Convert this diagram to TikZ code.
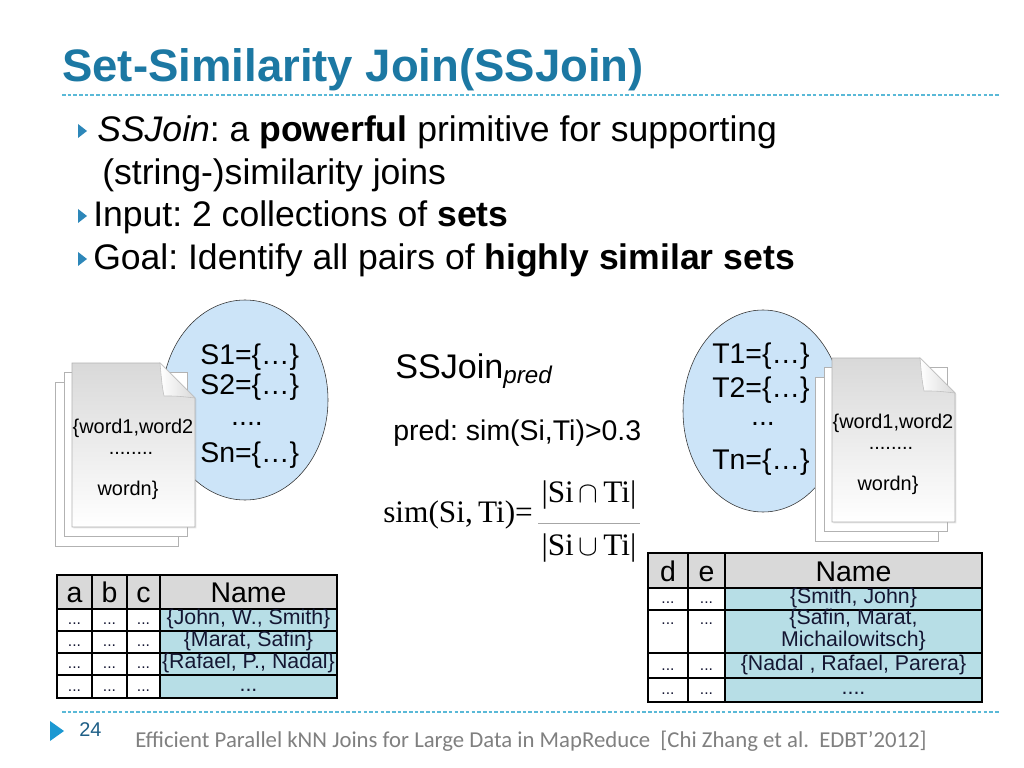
\documentclass[tikz,border=0pt]{standalone}
\usepackage{fontspec}
\setmainfont{Liberation Sans}
\newfontfamily\timesfont{Liberation Serif}
\newfontfamily\footfont{Carlito}
\usetikzlibrary{shapes.geometric,shadows}
\frenchspacing
\newlength{\pxu}
\setlength{\pxu}{0.703125pt}
\definecolor{titleblue}{RGB}{28,120,163}
\definecolor{bulletblue}{RGB}{45,135,185}
\definecolor{ruleblue}{RGB}{90,185,215}
\definecolor{setblue}{RGB}{204,228,248}
\definecolor{headgray}{RGB}{217,217,217}
\definecolor{nameteal}{RGB}{183,222,230}
\definecolor{celltext}{RGB}{20,22,50}
\definecolor{footgray}{RGB}{128,128,128}
\definecolor{pageblue}{RGB}{30,95,135}
\definecolor{footblue}{RGB}{27,152,210}
\tikzset{
  body/.style={inner sep=0, font=\fontsize{25}{30}\selectfont},
  setell/.style={ellipse, draw=black!80, fill=setblue, inner sep=0},
  settxt/.style={inner sep=0, font=\fontsize{20}{24}\selectfont},
  sheetback/.style={draw=gray!60, fill=white, line width=0.6pt},
  sheetfront/.style={draw=gray!60, line width=0.6pt, top color=gray!30, bottom color=white,
    drop shadow={opacity=0.2, shadow xshift=1pt, shadow yshift=-1pt}},
  fold/.style={draw=gray!50, line width=0.4pt, left color=white, right color=gray!30},
  sheettxt/.style={inner sep=0, font=\fontsize{14}{16}\selectfont},
  grid/.style={line width=1.6pt, black},
  headtxt/.style={inner sep=0, anchor=base, font=\fontsize{20}{24}\selectfont},
  dotcell/.style={inner sep=0, text height=1.5ex, text depth=.25ex, font=\fontsize{11}{13}\selectfont, celltext},
  namecell/.style={inner sep=0, text height=0.72em, text depth=0.05em, font=\fontsize{15}{15}\selectfont, celltext},
  formula/.style={inner sep=0, font=\timesfont\fontsize{22}{26}\selectfont},
  rule/.style={ruleblue, line width=0.8pt, dash pattern=on 2.5pt off 1.5pt}
}
% stack of three pages: #1,#2 top left of the front page, #3 name
\newcommand{\docstack}[3]{%
  \foreach \dx/\dy in {-17/19, -8/9} {
    \draw[sheetback] (#1+\dx,#2+\dy) rectangle ++(123,164);
  }
  \draw[sheetfront] (#1,#2) -- ++(88,0) -- ++(35,35) -- ++(0,129) -- ++(-123,0) -- cycle;
  \draw[fold] (#1+88,#2) .. controls (#1+90,#2+22) .. (#1+92,#2+33) .. controls (#1+105,#2+33) .. (#1+123,#2+35) -- cycle;
  \node[sheettxt, anchor=base] (#3-w1) at (#1+61,#2+70) {\{word1,word2};
  \node[sheettxt, anchor=base] (#3-dots) at (#1+59,#2+91) {........};
  \node[sheettxt, anchor=base] (#3-wn) at (#1+56,#2+132) {wordn\}};
}

\begin{document}
\begin{tikzpicture}[x=\pxu, y=-\pxu]
  \fill[white] (0,0) rectangle (1024,768);
  \useasboundingbox (0,0) rectangle (1024,768);

  % title and bullets
  \node[inner sep=0, anchor=base west, titleblue, font=\bfseries\fontsize{32}{38}\selectfont] (title) at (62,82) {Set-Similarity Join(SSJoin)};
  \coordinate (ruleL) at (62,95);
  \coordinate (ruleR) at (1000,95);
  \draw[rule] (ruleL) -- (ruleR);
  \node[body, anchor=base west] (b1) at (97,142) {\textit{SSJoin}: a \textbf{powerful} primitive for supporting};
  \node[body, anchor=base west] (b1b) at (102,185) {(string-)similarity joins};
  \node[body, anchor=base west] (b2) at (93,227) {Input: 2 collections of \textbf{sets}};
  \node[body, anchor=base west] (b3) at (93,270) {Goal: Identify all pairs of \textbf{highly similar sets}};
  \foreach \y in {142,227,270}
    \fill[bulletblue] (78,\y-18) -- (87,\y-11) -- (78,\y-4) -- cycle;

  % the two collections
  \node[setell, minimum width=166\pxu, minimum height=200\pxu] (Sset) at (245,400) {};
  \node[setell, minimum width=160\pxu, minimum height=202\pxu] (Tset) at (763,411) {};
  \docstack{72}{363}{Sdoc}
  \docstack{832}{358}{Tdoc}
  \node[settxt, anchor=base west] (S1) at (200,364) {S1=\{…\}};
  \node[settxt, anchor=base west] (S2) at (200,394) {S2=\{…\}};
  \node[settxt, anchor=base] (Sdots) at (247,425) {....};
  \node[settxt, anchor=base west] (Sn) at (200,462) {Sn=\{…\}};
  \node[settxt, anchor=base west] (T1) at (712,363) {T1=\{…\}};
  \node[settxt, anchor=base west] (T2) at (712,397) {T2=\{…\}};
  \node[settxt, anchor=base] (Tdots) at (763,425) {...};
  \node[settxt, anchor=base west] (Tn) at (712,469) {Tn=\{…\}};

  % join predicate
  \node[inner sep=0, anchor=base west, font=\fontsize{24}{28}\selectfont] (ssj) at (395,378) {SSJoin\raisebox{-4pt}{\fontsize{17}{20}\selectfont\itshape pred}};
  \node[inner sep=0, anchor=base west, font=\fontsize{20}{24}\selectfont] (pred) at (393,440) {pred: sim(Si,Ti)>0.3};
  \node[formula, anchor=base west] (lhs) at (383,522) {sim(Si,\,Ti)=};
  \node[formula, anchor=base] (num) at (589,502) {|Si$\,\cap\,$Ti|};
  \node[formula, anchor=base] (den) at (589,555) {|Si$\,\cup\,$Ti|};
  \coordinate (barL) at (538,523);
  \coordinate (barR) at (640,523);
  \draw[gray!70, line width=0.6pt] (barL) -- (barR);

  % left table
  \fill[headgray] (57,575) rectangle (337,609);
  \fill[nameteal] (160,609) rectangle (337,698);
  \foreach \x in {92,127,160} \draw[grid] (\x,575) -- (\x,698);
  \foreach \y in {609,631,653,675} \draw[grid] (57,\y) -- (337,\y);
  \draw[grid] (57,575) rectangle (337,698);
  \foreach \h/\x in {a/74.5, b/109.5, c/143.5, Name/248.5}
    \node[headtxt] (lh-\h) at (\x,602) {\h};
  \foreach \r/\y/\nm in {1/620/{\{John, W., Smith\}}, 2/642/{\{Marat, Safin\}}, 3/664/{\{Rafael, P., Nadal\}}, 4/686.5/{...}} {
    \foreach \c/\x in {a/74.5, b/109.5, c/143.5}
      \node[dotcell] (l\r\c) at (\x,\y) {...};
    \node[namecell] (l\r name) at (248.5,\y) {\nm};
  }

  % right table
  \fill[headgray] (648,553) rectangle (982,588);
  \fill[nameteal] (725,588) rectangle (982,702);
  \foreach \x in {688,725} \draw[grid] (\x,553) -- (\x,702);
  \foreach \y in {588,610,653,678} \draw[grid] (648,\y) -- (982,\y);
  \draw[grid] (648,553) rectangle (982,702);
  \foreach \h/\x in {d/668, e/706.5, Name/853.5}
    \node[headtxt] (rh-\h) at (\x,581) {\h};
  \foreach \r/\y/\dy/\nm in {1/599/599/{\{Smith, John\}}, 2/620/620/{\{Safin, Marat,}, 3/665.5/665.5/{\{Nadal , Rafael, Parera\}}, 4/690/690/{....}} {
    \foreach \c/\x in {d/668, e/706.5}
      \node[dotcell] (r\r\c) at (\x,\dy) {...};
    \node[namecell] (r\r name) at (853.5,\y) {\nm};
  }
  \node[namecell] (r2nameb) at (853.5,642) {Michailowitsch\}};

  % footer
  \coordinate (footL) at (62,712);
  \coordinate (footR) at (1000,712);
  \draw[rule] (footL) -- (footR);
  \fill[footblue] (50,721) -- (64,731) -- (50,741) -- cycle;
  \node[inner sep=0, anchor=base west, pageblue, font=\fontsize{14}{16}\selectfont] (page) at (79,736) {24};
  \node[inner sep=0, anchor=base west, footgray, font=\footfont\fontsize{16}{18}\selectfont] (foot) at (135,747) {Efficient Parallel kNN Joins for Large Data in MapReduce~~[Chi Zhang et al.~~EDBT’2012]};
\end{tikzpicture}
\end{document}
